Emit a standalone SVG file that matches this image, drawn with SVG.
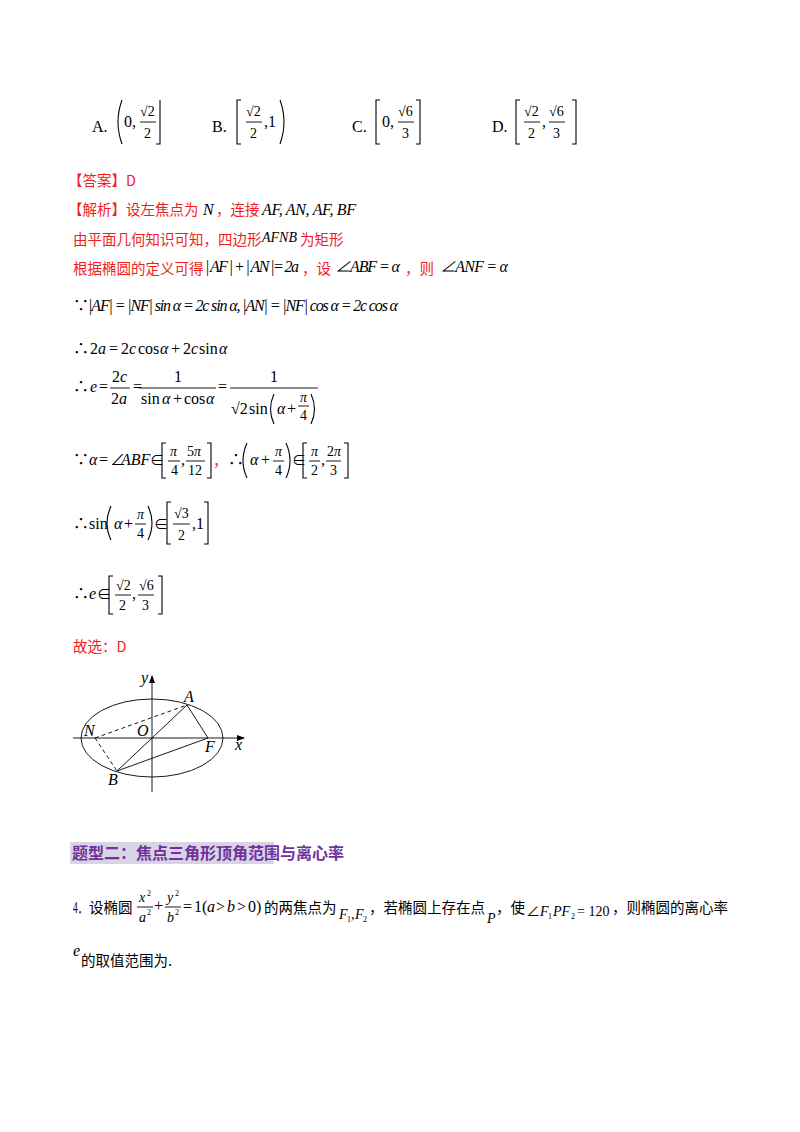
<svg xmlns="http://www.w3.org/2000/svg" width="800" height="1132" viewBox="0 0 800 1132">
<style>
text{font-family:"Liberation Serif","Noto Sans CJK SC",serif;font-size:16px;fill:#000}
.i{font-style:italic}
.s{font-size:14px}
.cn{font-family:"Noto Sans CJK SC",sans-serif;font-size:14.5px}
.r{fill:#f01e1e}
.ln{stroke:#000;stroke-width:0.9;fill:none}
.br{stroke:#000;stroke-width:1.1;fill:none}
</style>
<rect width="800" height="1132" fill="#fff"/>
<g id="options">
<text x="92" y="132">A.</text>
<path class="br" d="M122 100 Q114 122 122 144"/><text x="124" y="127">0,</text>
<text x="140" y="116" class="s">√2</text><line class="ln" x1="140" y1="122" x2="156" y2="122"/><text x="144" y="138" class="s">2</text>
<path class="br" d="M160 100 V144 H156"/>
<text x="212" y="132">B.</text>
<path class="br" d="M241 100 H237 V144 H241"/>
<text x="246" y="116" class="s">√2</text><line class="ln" x1="246" y1="122" x2="262" y2="122"/><text x="250" y="138" class="s">2</text>
<text x="264" y="127">,1</text><path class="br" d="M280 100 Q288 122 280 144"/>
<text x="352" y="132">C.</text>
<path class="br" d="M380 100 H376 V144 H380"/><text x="382" y="127">0,</text>
<text x="398" y="116" class="s">√6</text><line class="ln" x1="398" y1="122" x2="414" y2="122"/><text x="402" y="138" class="s">3</text>
<path class="br" d="M416 100 H420 V144 H416"/>
<text x="492" y="132">D.</text>
<path class="br" d="M520 100 H516 V144 H520"/>
<text x="524" y="116" class="s">√2</text><line class="ln" x1="524" y1="122" x2="540" y2="122"/><text x="528" y="138" class="s">2</text>
<text x="542" y="127">,</text>
<text x="549" y="116" class="s">√6</text><line class="ln" x1="549" y1="122" x2="565" y2="122"/><text x="553" y="138" class="s">3</text>
<path class="br" d="M572 100 H576 V144 H572"/>
</g>
<g id="answer">
<text x="68" y="186" class="cn r">【答案】D</text>
<text x="68" y="215" class="cn r">【解析】设左焦点为</text><text x="203" y="215" class="i">N</text><text x="216" y="215" class="cn r">，连接</text><text x="262" y="215" class="i" textLength="94">AF, AN, AF, BF</text>
<text x="73" y="245" class="cn r">由平面几何知识可知，四边形</text><text x="262" y="242" class="i s">AFNB</text><text x="300" y="245" class="cn r">为矩形</text>
<text x="73" y="274" class="cn r">根据椭圆的定义可得</text><text x="205" y="272" class="i" textLength="94">| AF | + | AN |= 2a</text><text x="302" y="274" class="cn r">，设</text><text x="335" y="272" class="i" textLength="65">∠ABF = α</text><text x="405" y="274" class="cn r">，则</text><text x="440" y="272" class="i" textLength="68">∠ANF = α</text>
</g>
<g id="derivation">
<text x="73" y="311">∵</text><text x="88" y="311" class="i" textLength="310">|AF| = |NF| sin α = 2c sin α, |AN| = |NF| cos α = 2c cos α</text>
<text x="73" y="354">∴</text><text x="90" y="354">2</text><text x="98" y="354" class="i">a</text><text x="109" y="354">=</text><text x="121" y="354">2</text><text x="129" y="354" class="i">c</text><text x="138" y="354">cos</text><text x="160" y="354" class="i">α</text><text x="171" y="354">+</text><text x="183" y="354">2</text><text x="191" y="354" class="i">c</text><text x="199" y="354">sin</text><text x="219" y="354" class="i">α</text>
<text x="73" y="392">∴</text><text x="90" y="392" class="i">e</text><text x="99" y="392">=</text>
<text x="112" y="382">2<tspan class="i">c</tspan></text><line class="ln" x1="110" y1="388" x2="130" y2="388"/><text x="111" y="404">2<tspan class="i">a</tspan></text>
<text x="133" y="392">=</text>
<text x="174" y="382">1</text><line class="ln" x1="139" y1="388" x2="216" y2="388"/>
<text x="141" y="404">sin</text><text x="162" y="404" class="i">α</text><text x="173" y="404">+</text><text x="184" y="404">cos</text><text x="206" y="404" class="i">α</text>
<text x="218" y="392">=</text>
<text x="270" y="382">1</text><line class="ln" x1="230" y1="388" x2="318" y2="388"/>
<text x="231" y="414">√2</text><text x="249" y="414">sin</text><path class="br" d="M274 394 Q267 409 274 424"/><text x="277" y="414" class="i">α</text><text x="287" y="414">+</text>
<text x="300" y="402" class="i s">π</text><line class="ln" x1="298" y1="406" x2="309" y2="406"/><text x="300" y="420" class="s">4</text>
<path class="br" d="M311 394 Q318 409 311 424"/>
<text x="73" y="465">∵</text><text x="89" y="465" class="i">α</text><text x="99" y="465">=</text><text x="110" y="465">∠</text><text x="121" y="465" class="i">ABF</text><text x="150" y="465" class="s">∈</text>
<path class="br" d="M166 443 H162 V478 H166"/>
<text x="170" y="456" class="i s">π</text><line class="ln" x1="168" y1="461" x2="180" y2="461"/><text x="171" y="475" class="s">4</text>
<text x="181" y="465">,</text>
<text x="187" y="456" class="s">5<tspan class="i">π</tspan></text><line class="ln" x1="186" y1="461" x2="205" y2="461"/><text x="188" y="475" class="s">12</text>
<path class="br" d="M207 443 H211 V478 H207"/>
<text x="213" y="466" class="cn r">，</text>
<text x="228" y="465">∴</text><path class="br" d="M247 443 Q239 461 247 478"/>
<text x="250" y="465" class="i">α</text><text x="261" y="465">+</text>
<text x="275" y="456" class="i s">π</text><line class="ln" x1="273" y1="461" x2="284" y2="461"/><text x="275" y="475" class="s">4</text>
<path class="br" d="M286 443 Q294 461 286 478"/>
<text x="292" y="465" class="s">∈</text>
<path class="br" d="M307 443 H303 V478 H307"/>
<text x="311" y="456" class="i s">π</text><line class="ln" x1="309" y1="461" x2="320" y2="461"/><text x="311" y="475" class="s">2</text>
<text x="321" y="465">,</text>
<text x="327" y="456" class="s">2<tspan class="i">π</tspan></text><line class="ln" x1="326" y1="461" x2="341" y2="461"/><text x="330" y="475" class="s">3</text>
<path class="br" d="M344 443 H348 V478 H344"/>
<text x="73" y="529">∴</text><text x="89" y="529">sin</text><path class="br" d="M111 506 Q103 523 111 540"/>
<text x="114" y="529" class="i">α</text><text x="124" y="529">+</text>
<text x="137" y="519" class="i s">π</text><line class="ln" x1="135" y1="524" x2="146" y2="524"/><text x="137" y="538" class="s">4</text>
<path class="br" d="M148 506 Q156 523 148 540"/>
<text x="154" y="529" class="s">∈</text>
<path class="br" d="M171 502 H167 V544 H171"/>
<text x="174" y="518" class="s">√3</text><line class="ln" x1="173" y1="524" x2="190" y2="524"/><text x="178" y="540" class="s">2</text>
<text x="192" y="529">,1</text>
<path class="br" d="M204 502 H208 V544 H204"/>
<text x="73" y="599">∴</text><text x="89" y="599" class="i">e</text><text x="97" y="599" class="s">∈</text>
<path class="br" d="M113 576 H109 V614 H113"/>
<text x="116" y="590" class="s">√2</text><line class="ln" x1="115" y1="595" x2="131" y2="595"/><text x="119" y="610" class="s">2</text>
<text x="132" y="599">,</text>
<text x="139" y="590" class="s">√6</text><line class="ln" x1="138" y1="595" x2="154" y2="595"/><text x="142" y="610" class="s">3</text>
<path class="br" d="M158 576 H162 V614 H158"/>
<text x="73" y="652" class="cn r">故选：D</text>
</g>
<g id="figure">
<defs><marker id="ar" markerWidth="8" markerHeight="8" refX="7" refY="4" orient="auto" markerUnits="userSpaceOnUse"><path d="M0 1 L8 4 L0 7 Z" fill="#000"/></marker></defs>
<ellipse cx="152" cy="738" rx="71" ry="39" class="ln"/>
<line class="ln" x1="73" y1="738" x2="244" y2="738" marker-end="url(#ar)"/>
<line class="ln" x1="152" y1="792" x2="152" y2="676" marker-end="url(#ar)"/>
<g class="ln">
<line x1="187" y1="705" x2="117" y2="771"/>
<line x1="187" y1="705" x2="208" y2="738"/>
<line x1="117" y1="771" x2="208" y2="738"/>
<line x1="95" y1="738" x2="187" y2="705" stroke-dasharray="4 3"/>
<line x1="95" y1="738" x2="117" y2="771" stroke-dasharray="4 3"/>
</g>
<text x="141" y="683" class="i">y</text>
<text x="184" y="702" class="i">A</text>
<text x="84" y="736" class="i">N</text>
<text x="137" y="736" class="i">O</text>
<text x="205" y="752" class="i">F</text>
<text x="235" y="750" class="i">x</text>
<text x="108" y="785" class="i">B</text>
</g>
<g id="heading">
<rect x="70" y="842" width="204" height="22" fill="#d8d4e4"/>
<text x="72" y="859" style="font-family:'Noto Sans CJK SC',sans-serif;font-size:16px;font-weight:bold;fill:#7030a0">题型二：焦点三角形顶角范围与离心率</text>
</g>
<g id="problem">
<text x="73" y="913" textLength="14" lengthAdjust="spacingAndGlyphs">4．</text><text x="89" y="913" class="cn">设椭圆</text>
<text x="139" y="902" class="i s">x</text><text x="147" y="896" style="font-size:8px">2</text><line class="ln" x1="137" y1="907" x2="153" y2="907"/><text x="139" y="922" class="i s">a</text><text x="147" y="915" style="font-size:8px">2</text>
<text x="154" y="911">+</text>
<text x="167" y="902" class="i s">y</text><text x="175" y="896" style="font-size:8px">2</text><line class="ln" x1="165" y1="907" x2="181" y2="907"/><text x="167" y="922" class="i s">b</text><text x="175" y="915" style="font-size:8px">2</text>
<text x="183" y="912">=</text><text x="194" y="912">1(</text><text x="207" y="912" class="i">a</text><text x="216" y="912">&gt;</text><text x="227" y="912" class="i">b</text><text x="237" y="912">&gt;</text><text x="248" y="912">0)</text>
<text x="264" y="913" class="cn">的两焦点为</text>
<text x="339" y="919" class="i s">F</text><text x="347" y="922" style="font-size:8px">1</text><text x="351" y="919" class="s">,</text><text x="355" y="919" class="i s">F</text><text x="363" y="922" style="font-size:8px">2</text>
<text x="369" y="913" class="cn">，若椭圆上存在点</text>
<text x="487" y="923" class="i s">P</text>
<text x="496" y="913" class="cn">，使</text>
<text x="526" y="916" class="s">∠</text><text x="540" y="916" class="i s">F</text><text x="548" y="919" style="font-size:8px">1</text><text x="553" y="916" class="i s">PF</text><text x="571" y="919" style="font-size:8px">2</text><text x="577" y="916" class="s">= 120</text>
<text x="612" y="913" class="cn">，则椭圆的离心率</text>
<text x="73" y="956" class="i">e</text><text x="81" y="966" class="cn">的取值范围为.</text>
</g>
</svg>
